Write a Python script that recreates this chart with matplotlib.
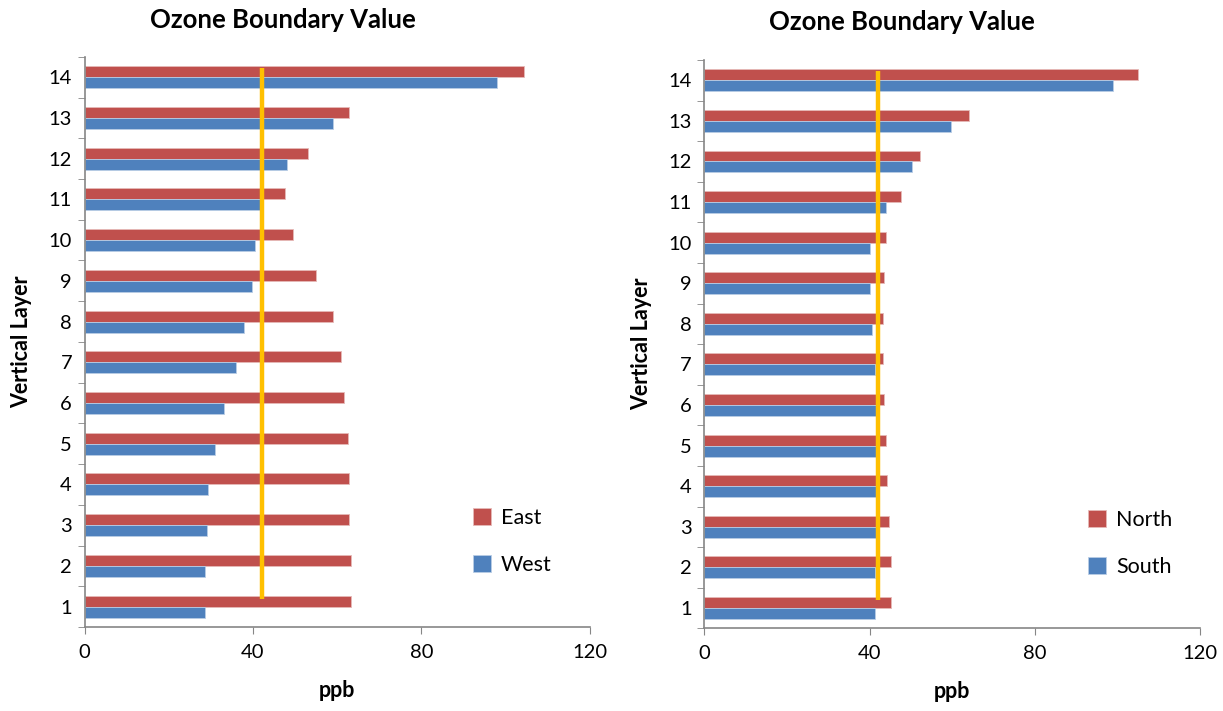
"""
Ozone boundary values by vertical layer: East/West and North/South side by side.
"""

import numpy as np
import matplotlib
matplotlib.use("Agg")
import matplotlib.pyplot as plt

# ---------------------------------------------------------
# Data (ppb)
# ---------------------------------------------------------
layers = list(range(1, 15))

east = [63.3, 63.3, 62.9, 62.9, 62.5, 61.7, 61.0, 59.1, 54.9, 49.6, 47.7, 53.0, 62.9, 104.4]
west = [28.6, 28.6, 29.0, 29.4, 30.9, 33.2, 35.9, 37.8, 39.7, 40.5, 41.7, 48.0, 59.1, 97.9]

north = [45.1, 45.1, 44.7, 44.3, 44.0, 43.6, 43.2, 43.2, 43.6, 44.0, 47.5, 52.1, 64.0, 105.1]
south = [41.3, 41.3, 41.7, 41.5, 41.5, 41.5, 41.3, 40.6, 40.2, 40.2, 44.0, 50.2, 59.8, 99.0]

boundary_left = 42.2
boundary_right = 42.0
xticks = [0, 40, 80, 120]

RED = "#C0504D"
BLUE = "#4F81BD"
ORANGE = "#FFC000"
GREY = "#868686"

plt.rcParams["font.family"] = ["Lato", "DejaVu Sans"]


def draw_panel(ax, top_vals, bot_vals, top_name, bot_name, boundary, leg_anchor):
    y = np.arange(len(layers))
    h = 0.27
    ax.barh(y + h / 2, top_vals, height=h, color=RED, edgecolor="#E6B9B8",
            linewidth=0.6, label=top_name, zorder=2)
    ax.barh(y - h / 2, bot_vals, height=h, color=BLUE, edgecolor="#B9CDE5",
            linewidth=0.6, label=bot_name, zorder=2)
    ax.plot([boundary, boundary], [0.19, 13.22], color=ORANGE, lw=3.2,
            solid_capstyle="butt", zorder=3)

    ax.set_xlim(0, 120)
    ax.set_ylim(-0.5, len(layers) - 0.5)
    ax.set_xticks(xticks)
    ax.set_xticklabels([str(t) for t in xticks], fontsize=14.5)
    ax.set_yticks(y)
    ax.set_yticklabels([str(l) for l in layers], fontsize=14.5)
    ax.set_yticks(np.arange(-0.5, len(layers), 1.0), minor=True)
    ax.tick_params(axis="y", which="major", length=0, pad=9)
    ax.tick_params(axis="y", which="minor", length=5, color=GREY, direction="out")
    ax.tick_params(axis="x", length=5, color=GREY, direction="out", pad=7)

    for side in ("top", "right"):
        ax.spines[side].set_visible(False)
    for side in ("left", "bottom"):
        ax.spines[side].set_color(GREY)
        ax.spines[side].set_linewidth(1.2)

    ax.set_xlabel("ppb", fontsize=15.5, fontweight="bold", labelpad=14)
    ax.set_ylabel("Vertical Layer", fontsize=15.5, fontweight="bold", labelpad=12)

    ax.legend(loc="center left", bbox_to_anchor=leg_anchor, frameon=False,
              fontsize=15.5, handlelength=0.85, handleheight=0.85, handletextpad=0.45,
              labelspacing=1.25)


def main():
    fig = plt.figure(figsize=(12.23, 7.11), dpi=100)
    ax_l = fig.add_axes([0.0691, 0.1181, 0.4133, 0.802])
    ax_r = fig.add_axes([0.5759, 0.1163, 0.4053, 0.7993])

    draw_panel(ax_l, east, west, "East", "West", boundary_left, (0.73, 0.15))
    draw_panel(ax_r, north, south, "North", "South", boundary_right, (0.735, 0.15))

    fig.text(283 / 1223, 1 - 20 / 711, "Ozone Boundary Value", ha="center",
             va="center", fontsize=18.5, fontweight="bold")
    fig.text(902 / 1223, 1 - 22 / 711, "Ozone Boundary Value", ha="center",
             va="center", fontsize=18.5, fontweight="bold")

    fig.savefig("out.png", dpi=100)
    plt.close(fig)


if __name__ == "__main__":
    main()
